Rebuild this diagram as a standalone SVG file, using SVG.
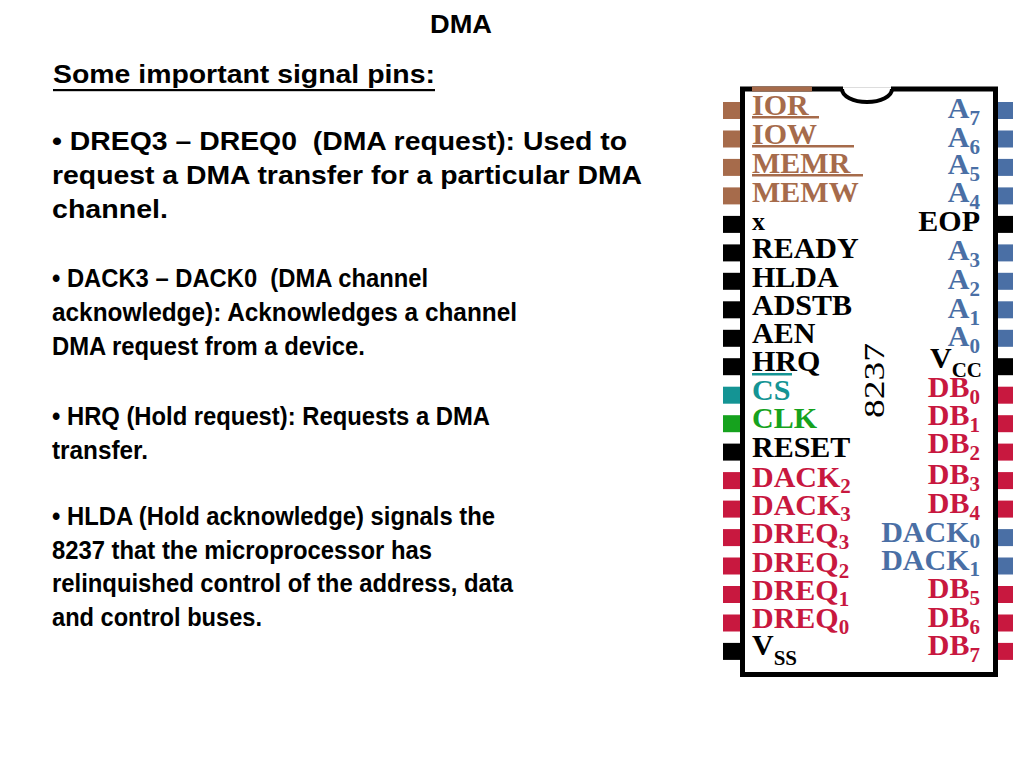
<svg xmlns="http://www.w3.org/2000/svg" width="1024" height="768" viewBox="0 0 1024 768">
<style>
.t{font-family:"Liberation Sans",Arial,sans-serif;font-weight:bold;font-size:25px;fill:#000;white-space:pre}
.c{font-family:"Liberation Serif","Times New Roman",serif;font-weight:bold;font-size:30px}
.s{font-size:21px}
.n{font-weight:normal}
.br{fill:#A66B4B}.bl{fill:#4A6FA5}.rd{fill:#C8183F}.tl{fill:#149494}.gr{fill:#16A21E}.bk{fill:#000}
</style>
<rect width="1024" height="768" fill="#fff"/>
<g id="text">
<text class="t" x="461" y="33" text-anchor="middle" textLength="62" lengthAdjust="spacingAndGlyphs">DMA</text>
<text class="t" x="53" y="83" textLength="382" lengthAdjust="spacingAndGlyphs">Some important signal pins:</text>
<rect x="53" y="89" width="382" height="2.2" fill="#000"/>
<text class="t" x="52" y="150" textLength="575" lengthAdjust="spacingAndGlyphs">• DREQ3 – DREQ0  (DMA request): Used to</text>
<text class="t" x="52" y="184" textLength="590" lengthAdjust="spacingAndGlyphs">request a DMA transfer for a particular DMA</text>
<text class="t" x="52" y="218" textLength="116" lengthAdjust="spacingAndGlyphs">channel.</text>
<text class="t" x="52" y="287" textLength="376" lengthAdjust="spacingAndGlyphs">• DACK3 – DACK0  (DMA channel</text>
<text class="t" x="52" y="321" textLength="465" lengthAdjust="spacingAndGlyphs">acknowledge): Acknowledges a channel</text>
<text class="t" x="52" y="355" textLength="313" lengthAdjust="spacingAndGlyphs">DMA request from a device.</text>
<text class="t" x="52" y="425" textLength="438" lengthAdjust="spacingAndGlyphs">• HRQ (Hold request): Requests a DMA</text>
<text class="t" x="52" y="459" textLength="96" lengthAdjust="spacingAndGlyphs">transfer.</text>
<text class="t" x="52" y="525" textLength="443" lengthAdjust="spacingAndGlyphs">• HLDA (Hold acknowledge) signals the</text>
<text class="t" x="52" y="559" textLength="380" lengthAdjust="spacingAndGlyphs">8237 that the microprocessor has</text>
<text class="t" x="52" y="592" textLength="461" lengthAdjust="spacingAndGlyphs">relinquished control of the address, data</text>
<text class="t" x="52" y="626" textLength="210" lengthAdjust="spacingAndGlyphs">and control buses.</text>
</g>
<g id="pins-left">
<rect class="br" x="723" y="102" width="17" height="17"/>
<rect class="br" x="723" y="130.5" width="17" height="17"/>
<rect class="br" x="723" y="158.9" width="17" height="17"/>
<rect class="br" x="723" y="187.4" width="17" height="17"/>
<rect class="bk" x="723" y="215.9" width="17" height="17"/>
<rect class="bk" x="723" y="244.4" width="17" height="17"/>
<rect class="bk" x="723" y="272.8" width="17" height="17"/>
<rect class="bk" x="723" y="301.3" width="17" height="17"/>
<rect class="bk" x="723" y="329.8" width="17" height="17"/>
<rect class="bk" x="723" y="358.2" width="17" height="17"/>
<rect class="tl" x="723" y="386.7" width="17" height="17"/>
<rect class="gr" x="723" y="415.2" width="17" height="17"/>
<rect class="bk" x="723" y="443.6" width="17" height="17"/>
<rect class="rd" x="723" y="472.1" width="17" height="17"/>
<rect class="rd" x="723" y="500.6" width="17" height="17"/>
<rect class="rd" x="723" y="529.1" width="17" height="17"/>
<rect class="rd" x="723" y="557.5" width="17" height="17"/>
<rect class="rd" x="723" y="586" width="17" height="17"/>
<rect class="rd" x="723" y="614.5" width="17" height="17"/>
<rect class="bk" x="723" y="642.9" width="17" height="17"/>
</g>
<g id="pins-right">
<rect class="bl" x="997" y="102" width="16" height="17"/>
<rect class="bl" x="997" y="130.5" width="16" height="17"/>
<rect class="bl" x="997" y="158.9" width="16" height="17"/>
<rect class="bl" x="997" y="187.4" width="16" height="17"/>
<rect class="bk" x="997" y="215.9" width="16" height="17"/>
<rect class="bl" x="997" y="244.4" width="16" height="17"/>
<rect class="bl" x="997" y="272.8" width="16" height="17"/>
<rect class="bl" x="997" y="301.3" width="16" height="17"/>
<rect class="bl" x="997" y="329.8" width="16" height="17"/>
<rect class="bk" x="997" y="358.2" width="16" height="17"/>
<rect class="rd" x="997" y="386.7" width="16" height="17"/>
<rect class="rd" x="997" y="415.2" width="16" height="17"/>
<rect class="rd" x="997" y="443.6" width="16" height="17"/>
<rect class="rd" x="997" y="472.1" width="16" height="17"/>
<rect class="rd" x="997" y="500.6" width="16" height="17"/>
<rect class="bl" x="997" y="529.1" width="16" height="17"/>
<rect class="bl" x="997" y="557.5" width="16" height="17"/>
<rect class="rd" x="997" y="586" width="16" height="17"/>
<rect class="rd" x="997" y="614.5" width="16" height="17"/>
<rect class="rd" x="997" y="642.9" width="16" height="17"/>
</g>
<g id="chip">
<rect x="742.5" y="89" width="253" height="585.5" fill="#fff" stroke="#000" stroke-width="5"/>
<rect x="752" y="86.5" width="60" height="5" class="br"/>
<rect x="843" y="85" width="48" height="8" fill="#fff"/>
<line x1="843" y1="87.5" x2="891" y2="87.5" stroke="#ddd" stroke-width="1"/>
<path d="M842,89 A25,13 0 0 0 892,89" fill="#fff" stroke="#000" stroke-width="4"/>
<text class="c n" transform="translate(884 418) rotate(-90)" font-size="39" textLength="75" lengthAdjust="spacingAndGlyphs">8237</text>
</g>
<g id="labels-left" class="c">
<text class="br" x="752" y="115">IOR</text>
<rect class="br" x="752" y="116" width="67" height="2.5"/>
<text class="br" x="752" y="144">IOW</text>
<rect class="br" x="752" y="145" width="102" height="2.5"/>
<text class="br" x="752" y="173">MEMR</text>
<rect class="br" x="752" y="174" width="111" height="2.5"/>
<text class="br" x="752" y="202">MEMW</text>
<text class="bk" x="752" y="230" font-size="26">x</text>
<text class="bk" x="752" y="258">READY</text>
<text class="bk" x="752" y="287">HLDA</text>
<text class="bk" x="752" y="315">ADSTB</text>
<text class="bk" x="752" y="343">AEN</text>
<text class="bk" x="752" y="371">HRQ</text>
<rect class="tl" x="752" y="373" width="40" height="2.5"/>
<text class="tl" x="752" y="400">CS</text>
<text class="gr" x="752" y="428">CLK</text>
<text class="bk" x="752" y="457">RESET</text>
<text class="rd" x="752" y="487">DACK<tspan class="s" dy="6">2</tspan></text>
<text class="rd" x="752" y="515">DACK<tspan class="s" dy="6">3</tspan></text>
<text class="rd" x="752" y="543">DREQ<tspan class="s" dy="6">3</tspan></text>
<text class="rd" x="752" y="572">DREQ<tspan class="s" dy="6">2</tspan></text>
<text class="rd" x="752" y="600">DREQ<tspan class="s" dy="6">1</tspan></text>
<text class="rd" x="752" y="628">DREQ<tspan class="s" dy="6">0</tspan></text>
<text class="bk" x="752" y="655">V<tspan class="s" dy="10">SS</tspan></text>
</g>
<g id="labels-right" class="c" text-anchor="end">
<text class="bl" x="980" y="118">A<tspan class="s" dy="7">7</tspan></text>
<text class="bl" x="980" y="147">A<tspan class="s" dy="7">6</tspan></text>
<text class="bl" x="980" y="174">A<tspan class="s" dy="7">5</tspan></text>
<text class="bl" x="980" y="202">A<tspan class="s" dy="7">4</tspan></text>
<text class="bk" x="980" y="231">EOP</text>
<text class="bl" x="980" y="260">A<tspan class="s" dy="7">3</tspan></text>
<text class="bl" x="980" y="289">A<tspan class="s" dy="7">2</tspan></text>
<text class="bl" x="980" y="318">A<tspan class="s" dy="7">1</tspan></text>
<text class="bl" x="980" y="346">A<tspan class="s" dy="7">0</tspan></text>
<text class="bk" x="982" y="368">V<tspan class="s" dy="9">CC</tspan></text>
<text class="rd" x="980" y="397">DB<tspan class="s" dy="7">0</tspan></text>
<text class="rd" x="980" y="425">DB<tspan class="s" dy="7">1</tspan></text>
<text class="rd" x="980" y="453">DB<tspan class="s" dy="7">2</tspan></text>
<text class="rd" x="980" y="484">DB<tspan class="s" dy="7">3</tspan></text>
<text class="rd" x="980" y="513">DB<tspan class="s" dy="7">4</tspan></text>
<text class="bl" x="980" y="542">DACK<tspan class="s" dy="6">0</tspan></text>
<text class="bl" x="980" y="570">DACK<tspan class="s" dy="6">1</tspan></text>
<text class="rd" x="980" y="598">DB<tspan class="s" dy="7">5</tspan></text>
<text class="rd" x="980" y="627">DB<tspan class="s" dy="7">6</tspan></text>
<text class="rd" x="980" y="655">DB<tspan class="s" dy="7">7</tspan></text>
</g>
</svg>
